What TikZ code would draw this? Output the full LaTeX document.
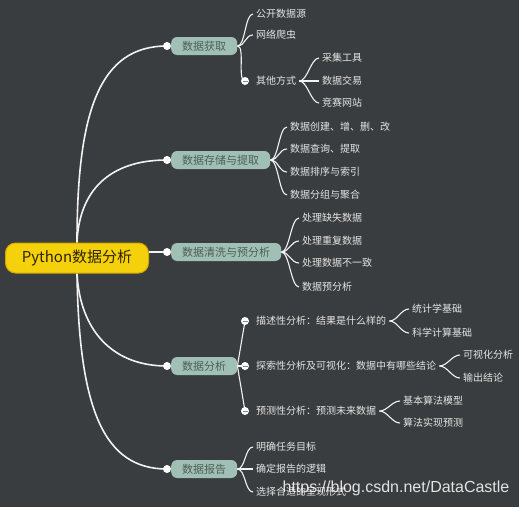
\documentclass[tikz,border=0pt]{standalone}
\usepackage{fontspec}
\setmainfont{Noto Sans CJK SC}
\newfontfamily\wmfont{Liberation Sans}
\usetikzlibrary{calc}
\definecolor{bgcol}{HTML}{3A3D3F}
\definecolor{rootfill}{HTML}{F5D10C}
\definecolor{rootedge}{HTML}{D2A800}
\definecolor{roottext}{HTML}{2D2500}
\definecolor{mainfill}{HTML}{A0C0B5}
\definecolor{maintext}{HTML}{4C5E58}
\definecolor{leaftext}{HTML}{E4E4E4}
\definecolor{linecol}{HTML}{F2F2F2}
\definecolor{minuscol}{HTML}{8A8A8A}
\pgfdeclarelayer{back}
\pgfdeclarelayer{links}
\pgfsetlayers{back,links,main}
\newcommand{\mmlink}[2]{\draw[twig] (#1) .. controls ($(#1)+(8,0)$) and ($(#2)+(-8,0)$) .. (#2);}
\begin{document}
\begin{tikzpicture}[x=1pt,y=-1pt,
  rootbox/.style={draw=rootedge, fill=rootfill, text=roottext, rounded corners=10pt,
    minimum width=143pt, minimum height=30pt, inner sep=0pt, line width=1pt,
    font=\fontsize{15}{18}\selectfont},
  mainbox/.style={fill=mainfill, text=maintext, rounded corners=6pt, minimum height=18pt,
    inner xsep=11pt, inner ysep=0pt, anchor=west, font=\fontsize{11}{13}\selectfont},
  leaf/.style={anchor=west, text=leaftext, inner xsep=3pt, inner ysep=1pt,
    font=\fontsize{10}{12}\selectfont},
  dot/.style={circle, fill=white, minimum size=8pt, inner sep=0pt},
  minusdot/.style={dot, path picture={\draw[minuscol, line width=0.8pt]
    ($(path picture bounding box.west)+(1.5,0)$) -- ($(path picture bounding box.east)+(-1.5,0)$);}},
  trunk/.style={draw=linecol, line width=1.6pt},
  twig/.style={draw=linecol, line width=1.1pt}]
\begin{pgfonlayer}{back}
\fill[bgcol] (0,0) rectangle (519,507);
\end{pgfonlayer}
\useasboundingbox (0,0) rectangle (519,507);

% root
\node[rootbox] (root) at (77,258) {Python数据分析};

% main branches
\node[mainbox] (g1) at (171,46) {数据获取};
\node[mainbox] (g2) at (171,160) {数据存储与提取};
\node[mainbox] (g3) at (171,252) {数据清洗与预分析};
\node[mainbox] (g4) at (171,366) {数据分析};
\node[mainbox] (g5) at (171,469) {数据报告};
\node[dot] (d1) at (167,46) {};
\node[dot] (d2) at (167,160) {};
\node[dot] (d3) at (167,252) {};
\node[dot] (d4) at (167,366) {};
\node[dot] (d5) at (167,469) {};

% group 1
\node[leaf] (a1) at (253,14) {公开数据源};
\node[leaf] (a2) at (253,35) {网络爬虫};
\node[minusdot] (ad) at (245,81) {};
\node[leaf] (a3) at (253,81) {其他方式};
\node[leaf] (a31) at (319,58) {采集工具};
\node[leaf] (a32) at (319,81) {数据交易};
\node[leaf] (a33) at (319,103) {竞赛网站};

% group 2
\node[leaf] (b1) at (287,127) {数据创建、增、删、改};
\node[leaf] (b2) at (287,149) {数据查询、提取};
\node[leaf] (b3) at (287,172) {数据排序与索引};
\node[leaf] (b4) at (287,195) {数据分组与聚合};

% group 3
\node[leaf] (c1) at (299,218) {处理缺失数据};
\node[leaf] (c2) at (299,241) {处理重复数据};
\node[leaf] (c3) at (299,263) {处理数据不一致};
\node[leaf] (c4) at (299,287) {数据预分析};

% group 4
\node[minusdot] (ed1) at (245,321) {};
\node[minusdot] (ed2) at (245,366) {};
\node[minusdot] (ed3) at (245,411) {};
\node[leaf] (e1) at (253,321) {描述性分析：结果是什么样的};
\node[leaf] (e2) at (253,366) {探索性分析及可视化：数据中有哪些结论};
\node[leaf] (e3) at (253,411) {预测性分析：预测未来数据};
\node[leaf] (e11) at (409,309) {统计学基础};
\node[leaf] (e12) at (409,333) {科学计算基础};
\node[leaf] (e21) at (460,355) {可视化分析};
\node[leaf] (e22) at (460,378) {输出结论};
\node[leaf] (e31) at (400,401) {基本算法模型};
\node[leaf] (e32) at (400,423) {算法实现预测};

% group 5
\node[leaf] (f1) at (253,447) {明确任务目标};
\node[leaf] (f2) at (253,469) {确定报告的逻辑};
\node[leaf] (f3) at (253,492) {选择合适的呈现形式};

% watermark
\node[text=white, opacity=0.85, font=\wmfont\fontsize{16}{18}\selectfont, inner sep=0pt]
  (wm) at (396,488) {https://blog.csdn.net/DataCastle};

\begin{pgfonlayer}{links}
% trunks
\draw[trunk] (root.north) .. controls (77,110) and (100,46) .. (d1.center);
\draw[trunk] (root.north) .. controls (79,192) and (108,160) .. (d2.center);
\draw[trunk] (root.east |- d3) -- (d3.center);
\draw[trunk] (root.south) .. controls (80,330) and (112,366) .. (d4.center);
\draw[trunk] (root.south) .. controls (79,410) and (104,469) .. (d5.center);
% twigs
\mmlink{g1.east}{a1.west}
\mmlink{g1.east}{a2.west}
\mmlink{g1.east}{ad.center}
\mmlink{a3.east}{a31.west}
\mmlink{a3.east}{a32.west}
\mmlink{a3.east}{a33.west}
\mmlink{g2.east}{b1.west}
\mmlink{g2.east}{b2.west}
\mmlink{g2.east}{b3.west}
\mmlink{g2.east}{b4.west}
\mmlink{g3.east}{c1.west}
\mmlink{g3.east}{c2.west}
\mmlink{g3.east}{c3.west}
\mmlink{g3.east}{c4.west}
\draw[twig] (g4.east) -- (ed1.center);
\draw[twig] (g4.east) -- (ed2.center);
\draw[twig] (g4.east) -- (ed3.center);
\mmlink{e1.east}{e11.west}
\mmlink{e1.east}{e12.west}
\mmlink{e2.east}{e21.west}
\mmlink{e2.east}{e22.west}
\mmlink{e3.east}{e31.west}
\mmlink{e3.east}{e32.west}
\mmlink{g5.east}{f1.west}
\mmlink{g5.east}{f2.west}
\mmlink{g5.east}{f3.west}
\end{pgfonlayer}
\end{tikzpicture}
\end{document}
